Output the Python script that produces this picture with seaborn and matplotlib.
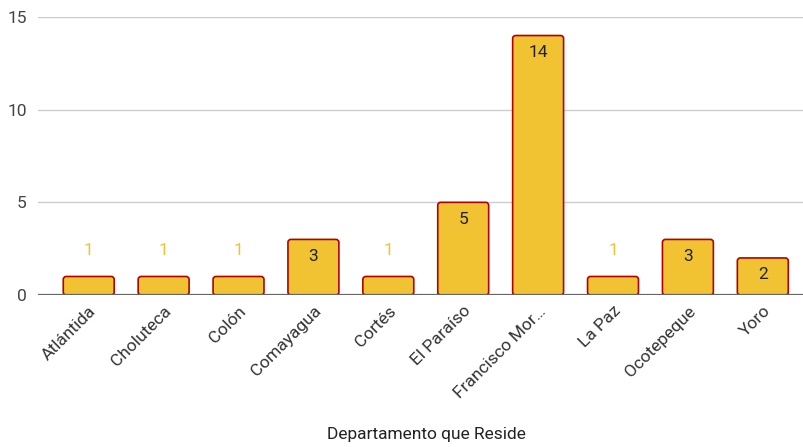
import matplotlib
matplotlib.use("Agg")
import matplotlib.pyplot as plt
import seaborn as sns
import pandas as pd
from matplotlib.patches import FancyBboxPatch

# data
departamentos = ["Atlántida", "Choluteca", "Colón", "Comayagua", "Cortés",
                 "El Paraíso", "Francisco Mor…", "La Paz", "Ocotepeque", "Yoro"]
conteo = [1, 1, 1, 3, 1, 5, 14, 1, 3, 2]

df = pd.DataFrame({"departamento": departamentos, "n": conteo})

sns.set_style("white")
plt.rcParams["font.family"] = ["Roboto", "DejaVu Sans"]

fig = plt.figure(figsize=(8.04, 4.47), dpi=100)
ax = fig.add_axes([0.047, 0.340, 0.953, 0.622])

yellow = "#f1c232"
edge = "#b10202"
fs = 12.5

sns.barplot(data=df, x="departamento", y="n", color=yellow, width=0.68,
            saturation=1, ax=ax, zorder=3)

# swap the plain rectangles for slightly rounded ones
# (x: ~75 px per category, y: ~18.5 px per unit)
for p in list(ax.patches):
    x, y = p.get_x(), p.get_y()
    w, h = p.get_width(), p.get_height()
    rb = FancyBboxPatch((x, y), w, h, boxstyle="round,pad=0,rounding_size=0.04",
                        mutation_aspect=4.0,
                        facecolor=yellow, edgecolor=edge, linewidth=1.2, zorder=3)
    p.remove()
    ax.add_patch(rb)

ax.set_xlim(-0.68, 9.55)
ax.set_ylim(0, 15)
ax.set_yticks([0, 5, 10, 15])
ax.yaxis.grid(True, color="#cccccc", linewidth=1, zorder=0)
ax.axhline(0, color="#666666", linewidth=1.6, zorder=4)
for s in ax.spines.values():
    s.set_visible(False)

ax.tick_params(axis="y", length=0, labelsize=fs, labelcolor="#444444", pad=8)
ax.tick_params(axis="x", length=0, labelsize=fs, labelcolor="#333333", pad=6)
plt.setp(ax.get_xticklabels(), rotation=45, ha="right", rotation_mode="anchor")
ax.set_xlabel("")
ax.set_ylabel("")

for i, v in enumerate(conteo):
    if v >= 2:
        ax.annotate(str(v), (i, v), xytext=(0, -12), textcoords="offset points",
                    ha="center", va="center", fontsize=fs, color="#222222", zorder=5)
    else:
        ax.annotate(str(v), (i, v), xytext=(0, 19), textcoords="offset points",
                    ha="center", va="center", fontsize=fs, color=yellow, zorder=5)

fig.text(0.530, 0.027, "Departamento que Reside", ha="center", va="center",
         fontsize=fs, color="#222222")

fig.savefig("out.png", dpi=100)
